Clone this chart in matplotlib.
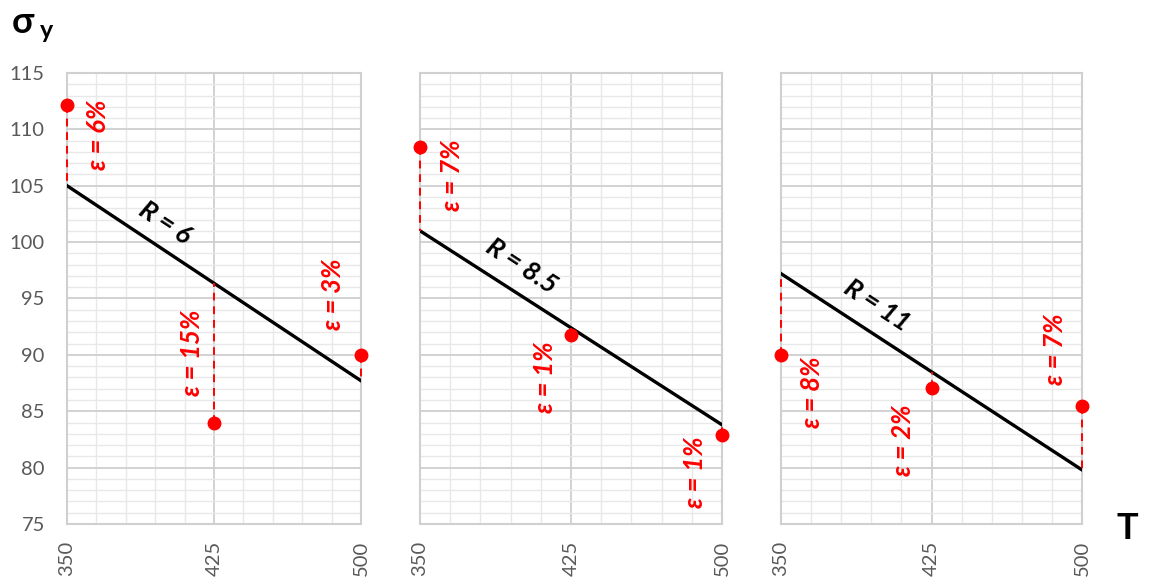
import matplotlib
matplotlib.use("Agg")
import matplotlib.pyplot as plt
from matplotlib.ticker import MultipleLocator, FixedLocator
import numpy as np

plt.rcParams['font.family'] = ['Lato', 'DejaVu Sans']

# data
T = [350, 425, 500]
sigma = [
    [112.2, 84.0, 90.0],
    [108.4, 91.8, 82.9],
    [90.0, 87.1, 85.5],
]
fit = [
    [105.0, 96.4, 87.7],
    [101.0, 92.4, 83.8],
    [97.2, 88.5, 79.8],
]
r_labels = ["R = 6", "R = 8.5", "R = 11"]
r_pos = [(400, 101.7), (400.2, 97.9), (397.8, 94.4)]
eps_labels = [
    ["ε = 6%", "ε = 15%", "ε = 3%"],
    ["ε = 7%", "ε = 1%", "ε = 1%"],
    ["ε = 8%", "ε = 2%", "ε = 7%"],
]
eps_pos = [
    [(365.8, 109.5), (413.8, 90.2), (485.7, 95.4)],
    [(365.9, 105.9), (412.1, 88.0), (486.6, 79.6)],
    [(365.4, 86.7), (410.8, 82.4), (486.5, 90.5)],
]

fig = plt.figure(figsize=(11.52, 5.79), dpi=100)
lefts = [0.0582, 0.3646, 0.678]
widths = [0.2552, 0.2621, 0.2612]
bottom, top = 0.095, 0.874

red = "#ff0000"
for i in range(3):
    ax = fig.add_axes([lefts[i], bottom, widths[i], top - bottom])
    ax.set_xlim(350, 500)
    ax.set_ylim(75, 115)
    ax.xaxis.set_major_locator(FixedLocator(T))
    ax.xaxis.set_minor_locator(FixedLocator(np.arange(350, 501, 15)))
    ax.yaxis.set_major_locator(MultipleLocator(5))
    ax.yaxis.set_minor_locator(MultipleLocator(1))
    ax.grid(which="major", color="#cfcfcf", lw=1.3)
    ax.grid(which="minor", color="#e8e8e8", lw=1.0)
    ax.set_axisbelow(True)
    for s in ax.spines.values():
        s.set_color("#d0d0d0")
        s.set_linewidth(1.5)
    ax.tick_params(which="both", length=0)
    ax.tick_params(axis="x", labelrotation=90, labelsize=14.5, labelcolor="#595959", pad=12)
    ax.tick_params(axis="y", labelsize=14.5, labelcolor="#595959", pad=16)
    if i > 0:
        ax.set_yticklabels([])

    ax.plot([T[0], T[-1]], [fit[i][0], fit[i][-1]], color="black", lw=2.4, zorder=3)
    for j in range(3):
        ax.plot([T[j], T[j]], [sigma[i][j], fit[i][j]], color=red, lw=1.4,
                ls=(0, (4, 3)), zorder=3.5, clip_on=False)
    ax.plot(T, sigma[i], "o", color=red, ms=9, zorder=4, clip_on=False)

    ang = -33.3
    ax.text(r_pos[i][0], r_pos[i][1], r_labels[i], rotation=ang, rotation_mode="anchor",
            ha="center", va="center", fontsize=19, fontweight="bold", style="italic",
            color="black")
    for j in range(3):
        ax.text(eps_pos[i][j][0], eps_pos[i][j][1], eps_labels[i][j], rotation=90,
                ha="center", va="center", fontsize=18.5, fontweight="bold",
                style="italic", color=red)

fig.text(0.010, 0.962, "σ", fontsize=26, fontweight="bold", ha="left", va="center")
fig.text(0.035, 0.947, "y", fontsize=18, fontweight="bold", ha="left", va="center")
fig.text(0.979, 0.088, "T", fontsize=26, fontweight="bold", ha="center", va="center")

fig.savefig("out.png", dpi=100)
